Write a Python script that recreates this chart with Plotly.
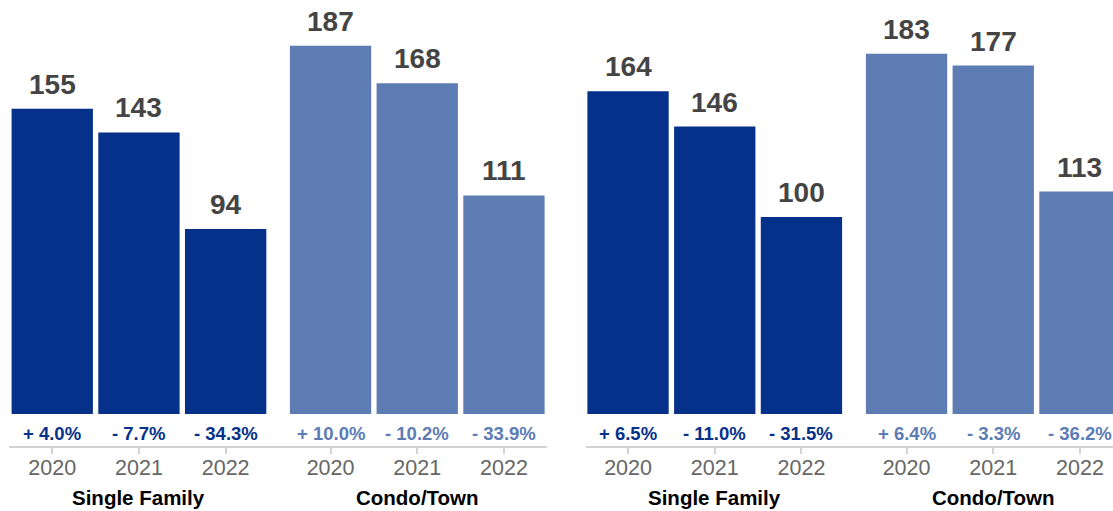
import plotly.graph_objects as go

# ---- data -------------------------------------------------------------
years = ["2020", "2021", "2022"]
group_names = ["Single Family", "Condo/Town", "Single Family", "Condo/Town"]

sf_left = [155, 143, 94]
condo_left = [187, 168, 111]
sf_right = [164, 146, 100]
condo_right = [183, 177, 113]

sf_left_change = ["+ 4.0%", "- 7.7%", "- 34.3%"]
condo_left_change = ["+ 10.0%", "- 10.2%", "- 33.9%"]
sf_right_change = ["+ 6.5%", "- 11.0%", "- 31.5%"]
condo_right_change = ["+ 6.4%", "- 3.3%", "- 36.2%"]

values = [sf_left, condo_left, sf_right, condo_right]
changes = [sf_left_change, condo_left_change, sf_right_change, condo_right_change]

# ---- styling ----------------------------------------------------------
W, H = 1113, 511
PLOT_BOTTOM = 446            # pixel row of the category axis line
FONT = "Liberation Sans, Arial, Helvetica, sans-serif"
DARK = "#06318a"
LIGHT = "#5d7cb4"
colors = [DARK, LIGHT, DARK, LIGHT]
AXIS_GREY = "#d3d3d3"

# horizontal layout of the four bar groups, in pixels
PITCH = 86.7                                   # width of one category slot
cat_left = [8.9, 287.2, 584.7, 863.2]          # left edge of each group's first slot
domains_px = [(9, 278), (278, 547.3), (585.5, 854), (854, W)]

fig = go.Figure()
axis_ids = ["x", "x2", "x3", "x4"]

for i, (ax, vals, col) in enumerate(zip(axis_ids, values, colors)):
    fig.add_trace(go.Bar(
        x=years, y=vals, xaxis=ax, yaxis="y",
        marker=dict(color=col, line=dict(width=0)),
        hoverinfo="skip", showlegend=False,
    ))

    d0, d1 = domains_px[i]
    L = cat_left[i]
    rng = [-0.5 + (d0 - L) / PITCH, -0.5 + (d1 - L) / PITCH]
    key = "xaxis" if i == 0 else f"xaxis{i + 1}"
    fig.update_layout({key: dict(
        domain=[d0 / W, d1 / W], range=rng, type="category",
        anchor="y", showgrid=False, zeroline=False,
        showline=True, linecolor=AXIS_GREY, linewidth=2,
        ticks="outside", ticklen=6, tickwidth=2, tickcolor=AXIS_GREY,
        ticklabelstandoff=-5,
        tickfont=dict(family=FONT, size=21.5, color="#666666"),
        fixedrange=True,
    )})

    # value above each bar
    for k, v in enumerate(vals):
        fig.add_annotation(
            x=k, y=v, xref=ax, yref="y", text=f"<b>{v}</b>",
            showarrow=False, yanchor="bottom", yshift=7,
            font=dict(family=FONT, size=28, color="#444444"),
        )
    # year-over-year change between bar base and axis
    for k, c in enumerate(changes[i]):
        fig.add_annotation(
            x=k, y=-9.7, xref=ax, yref="y", text=f"<b>{c}</b>",
            showarrow=False, yanchor="middle",
            font=dict(family=FONT, size=18.5, color=col),
        )
    # group label under the years
    fig.add_annotation(
        x=1, y=-(497 - PLOT_BOTTOM) / PLOT_BOTTOM, xref=ax, yref="paper",
        text=f"<b>{group_names[i]}</b>", showarrow=False, yanchor="middle",
        font=dict(family=FONT, size=20.5, color="#000000"),
    )

fig.update_layout(
    width=W, height=H,
    margin=dict(l=0, r=0, t=0, b=H - PLOT_BOTTOM, pad=0),
    paper_bgcolor="white", plot_bgcolor="white",
    bargap=0.062,
    yaxis=dict(range=[-16.3, 210.3], visible=False, showgrid=False,
               zeroline=False, fixedrange=True),
    font=dict(family=FONT),
)

fig.write_html("out.html", config={"displayModeBar": False})
